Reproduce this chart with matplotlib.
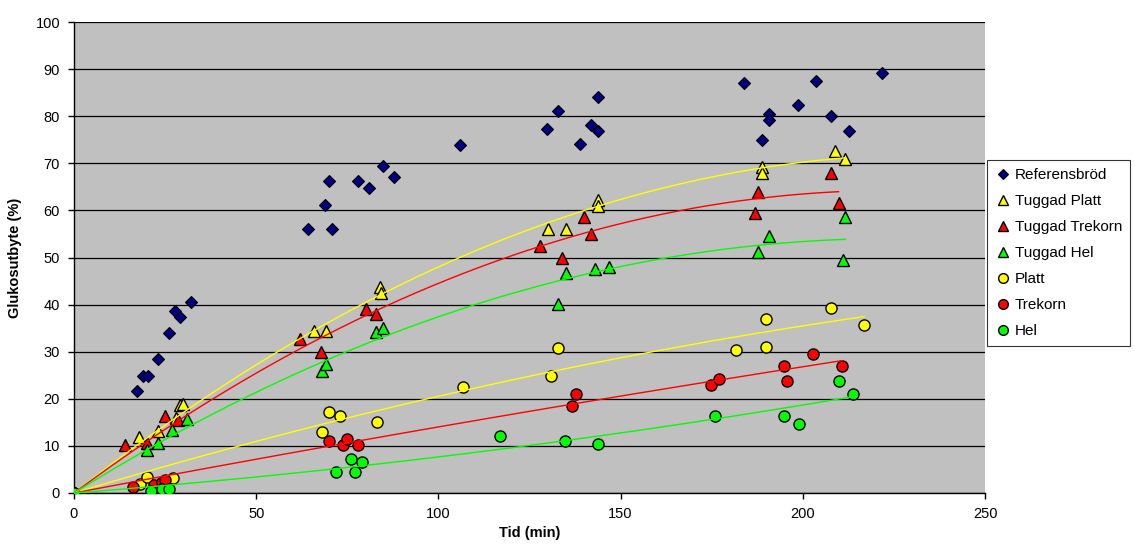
import numpy as np
import matplotlib
matplotlib.use('Agg')
import matplotlib.pyplot as plt
from matplotlib.lines import Line2D

plt.rcParams['font.family'] = ['Liberation Sans', 'DejaVu Sans']

# --- data (Tid in min, Glukosutbyte in %) ---
ref_x = [17.3, 18.9, 20.3, 23.1, 26.1, 27.7, 29.1, 32.1, 64.2, 68.9, 70.0, 70.8, 77.9, 80.9, 84.8, 87.8,
         105.9, 129.8, 132.8, 138.9, 141.9, 143.8, 143.8, 183.9, 188.8, 190.8, 190.8, 198.8, 203.7,
         207.8, 212.8, 221.8]
ref_y = [21.7, 24.8, 24.8, 28.4, 34.0, 38.6, 37.4, 40.6, 56.1, 61.1, 66.2, 56.1, 66.2, 64.8, 69.4, 67.1,
         73.9, 77.3, 81.0, 74.0, 78.1, 84.1, 76.8, 87.0, 75.0, 80.5, 79.1, 82.3, 87.4,
         80.0, 76.8, 89.2]

tp_x = [0, 17.9, 23.1, 28.0, 29.1, 30.0, 65.9, 69.1, 84.0, 84.2, 130.0, 134.9, 143.9, 143.9, 188.7, 188.7, 208.7, 211.7]
tp_y = [0, 11.8, 13.2, 16.0, 18.7, 18.9, 34.3, 34.3, 43.8, 42.5, 56.1, 56.1, 62.2, 61.0, 69.3, 67.9, 72.6, 70.9]

tt_x = [0, 14.0, 19.9, 25.0, 28.5, 62.0, 67.9, 80.0, 82.9, 127.9, 133.9, 140.0, 142.0, 186.8, 187.8, 207.7, 209.8]
tt_y = [0, 10.2, 10.7, 16.3, 15.5, 32.7, 29.9, 39.0, 38.1, 52.4, 50.0, 58.5, 55.0, 59.4, 64.0, 68.0, 61.5]

th_x = [0, 20.1, 23.1, 27.0, 31.1, 68.1, 69.1, 82.9, 84.9, 132.8, 134.9, 142.9, 146.9, 187.8, 190.8, 210.9, 211.7]
th_y = [0, 9.1, 10.7, 13.4, 15.8, 26.0, 27.4, 34.1, 35.1, 40.1, 46.7, 47.5, 47.9, 51.1, 54.6, 49.5, 58.5]

pl_x = [0, 18.1, 20.1, 27.1, 68.0, 70.1, 73.0, 83.1, 106.8, 130.9, 132.8, 181.8, 189.9, 189.9, 207.8, 216.8]
pl_y = [0, 2.0, 3.3, 3.2, 13.0, 17.2, 16.4, 15.1, 22.6, 24.8, 30.8, 30.4, 31.1, 36.9, 39.3, 35.7]

tk_x = [0, 16.1, 22.0, 24.1, 25.1, 70.1, 73.9, 75.0, 78.0, 136.8, 137.8, 174.8, 176.9, 194.8, 195.8, 202.8, 210.8]
tk_y = [0, 1.3, 1.7, 2.4, 2.8, 11.0, 10.2, 11.4, 10.2, 18.5, 21.0, 23.0, 24.2, 27.0, 23.8, 29.5, 27.0]

he_x = [0, 21.0, 24.1, 26.1, 71.9, 75.9, 77.0, 78.9, 116.9, 134.8, 143.9, 175.9, 194.8, 198.9, 209.8, 213.7]
he_y = [0, 0.4, 0.8, 0.8, 4.5, 7.3, 4.5, 6.5, 12.2, 11.0, 10.3, 16.3, 16.3, 14.7, 23.8, 21.0]

series = [
    ('Tuggad Platt', tp_x, tp_y, '^', '#FFFF00'),
    ('Tuggad Trekorn', tt_x, tt_y, '^', '#FF0000'),
    ('Tuggad Hel', th_x, th_y, '^', '#00FF00'),
    ('Platt', pl_x, pl_y, 'o', '#FFFF00'),
    ('Trekorn', tk_x, tk_y, 'o', '#FF0000'),
    ('Hel', he_x, he_y, 'o', '#00FF00'),
]

fig = plt.figure(figsize=(11.35, 5.44), dpi=100)
ax = fig.add_axes([74 / 1135, 51 / 544, 911 / 1135, 471 / 544])
ax.set_facecolor('#C0C0C0')

ax.plot(ref_x, ref_y, linestyle='none', marker='D', markersize=6,
        markerfacecolor='#000080', markeredgecolor='black', markeredgewidth=0.8, zorder=3)

for name, xs, ys, mk, col in series:
    ax.plot(xs, ys, linestyle='none', marker=mk, markersize=8,
            markerfacecolor=col, markeredgecolor='black', markeredgewidth=1.0, zorder=3)

# order-2 polynomial trendlines with intercept fixed at 0
for name, xs, ys, mk, col in series:
    xs = np.array(xs, dtype=float)
    A = np.column_stack([xs, xs ** 2])
    a, b = np.linalg.lstsq(A, np.array(ys, dtype=float), rcond=None)[0]
    xx = np.linspace(0, xs.max(), 200)
    ax.plot(xx, a * xx + b * xx ** 2, color=col, linewidth=1.0, zorder=4)

ax.set_xlim(0, 250)
ax.set_ylim(0, 100)
ax.set_xticks(range(0, 251, 50))
ax.set_yticks(range(0, 101, 10))
ax.yaxis.grid(True, color='black', linewidth=0.9)
ax.set_axisbelow(True)
for s in ['top', 'right']:
    ax.spines[s].set_visible(False)
ax.spines['left'].set_linewidth(1.0)
ax.spines['bottom'].set_linewidth(1.0)
ax.tick_params(direction='out', length=4, width=1, labelsize=10.5, pad=6)

ax.set_xlabel('Tid (min)', fontsize=10.5, fontweight='bold', labelpad=4)
ax.set_ylabel('Glukosutbyte (%)', fontsize=10.5, fontweight='bold', labelpad=10)

handles = [Line2D([], [], linestyle='none', marker='D', markersize=5,
                  markerfacecolor='#000080', markeredgecolor='black', markeredgewidth=0.8)]
labels = ['Referensbröd']
for name, xs, ys, mk, col in series:
    handles.append(Line2D([], [], linestyle='none', marker=mk, markersize=7,
                          markerfacecolor=col, markeredgecolor='black', markeredgewidth=1.0))
    labels.append(name)

leg = fig.legend(handles, labels, loc='upper left', bbox_to_anchor=(987 / 1135, 384 / 544),
                 fontsize=11, frameon=True, fancybox=False, edgecolor='black',
                 handlelength=1.0, handletextpad=0.25, labelspacing=0.78, borderpad=0.55,
                 borderaxespad=0)
leg.get_frame().set_linewidth(0.8)

fig.savefig('out.png', dpi=100)
